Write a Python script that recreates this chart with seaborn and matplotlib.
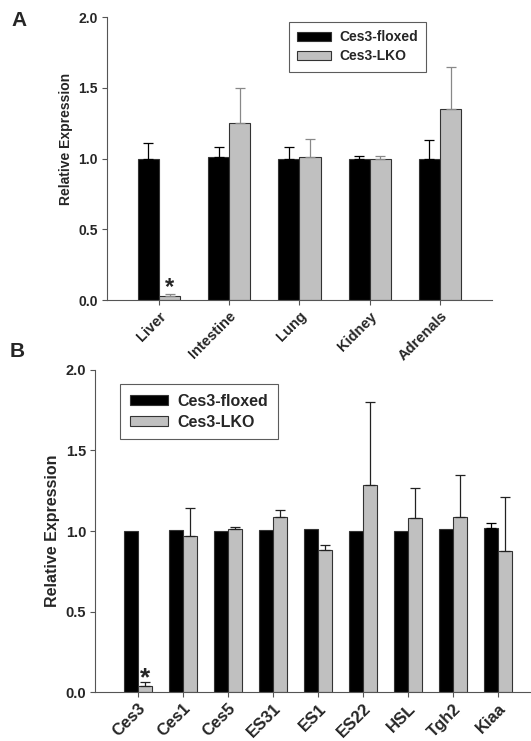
import matplotlib
matplotlib.use("Agg")
import matplotlib.pyplot as plt
from matplotlib.patches import Patch
import numpy as np
import pandas as pd
import seaborn as sns

# panel A: tissues
tissues = ["Liver", "Intestine", "Lung", "Kidney", "Adrenals"]
a_floxed = [1.00, 1.01, 0.995, 1.00, 1.00]
a_floxed_err = [0.11, 0.07, 0.085, 0.02, 0.13]
a_lko = [0.03, 1.25, 1.01, 1.00, 1.35]
a_lko_err = [0.01, 0.25, 0.13, 0.02, 0.30]

# panel B: genes in liver
genes = ["Ces3", "Ces1", "Ces5", "ES31", "ES1", "ES22", "HSL", "Tgh2", "Kiaa"]
b_floxed = [1.00, 1.005, 1.00, 1.005, 1.01, 1.00, 1.00, 1.01, 1.02]
b_floxed_err = [0.0, 0.0, 0.0, 0.0, 0.0, 0.0, 0.0, 0.0, 0.03]
b_lko = [0.04, 0.97, 1.015, 1.085, 0.885, 1.285, 1.08, 1.085, 0.875]
b_lko_err = [0.02, 0.17, 0.01, 0.045, 0.03, 0.515, 0.19, 0.265, 0.335]

groups = ["Ces3-floxed", "Ces3-LKO"]
colors = ["#000000", "#c0c0c0"]

sns.set_theme(style="ticks")
plt.rcParams["font.family"] = ["Liberation Sans", "DejaVu Sans"]
plt.rcParams["font.weight"] = "bold"


def panel(ax, cats, fl, fl_err, lk, lk_err, width, fs_y, fs_x, fs_lab, fs_leg,
          err_colors, anchor):
    df = pd.DataFrame({
        "cat": cats * 2,
        "val": fl + lk,
        "grp": [groups[0]] * len(cats) + [groups[1]] * len(cats),
    })
    sns.barplot(data=df, x="cat", y="val", hue="grp", palette=colors,
                width=width, errorbar=None, edgecolor="#333333", linewidth=0.8,
                legend=False, ax=ax)
    for cont, errs, ec in zip(ax.containers, [fl_err, lk_err], err_colors):
        for bar, e in zip(cont, errs):
            if e <= 0:
                continue
            x = bar.get_x() + bar.get_width() / 2
            h = bar.get_height()
            ax.errorbar(x, h, yerr=[[0], [e]], fmt="none", ecolor=ec,
                        elinewidth=0.9, capsize=3.5, capthick=0.9)
    ax.set_ylim(0, 2.0)
    ax.set_yticks([0.0, 0.5, 1.0, 1.5, 2.0])
    ax.set_yticklabels(["0.0", "0.5", "1.0", "1.5", "2.0"], fontsize=fs_y, fontweight="bold")
    ax.set_xticks(range(len(cats)))
    ax.set_xticklabels(cats, rotation=45, ha="right", rotation_mode="anchor",
                       fontsize=fs_x, fontweight="bold")
    ax.set_xlabel("")
    ax.set_ylabel("Relative Expression", fontsize=fs_lab, fontweight="bold")
    sns.despine(ax=ax)
    for s in ["left", "bottom"]:
        ax.spines[s].set_color("#555555")
        ax.spines[s].set_linewidth(0.8)
    ax.tick_params(axis="both", length=3.5, width=0.8, color="#555555", pad=3)
    handles = [Patch(facecolor=c, edgecolor="#333333", linewidth=0.8) for c in colors]
    leg = ax.legend(handles, groups, loc="upper left", bbox_to_anchor=anchor,
                    fontsize=fs_leg, frameon=True, fancybox=False,
                    handlelength=2.4, handleheight=0.6, borderpad=0.6,
                    labelspacing=0.35, handletextpad=0.6, borderaxespad=0)
    leg.get_frame().set_edgecolor("#333333")
    leg.get_frame().set_linewidth(0.8)
    return ax


fig = plt.figure(figsize=(5.31, 7.41), dpi=100)
axA = fig.add_axes([0.2015, 0.5951, 0.725, 0.3819])
axB = fig.add_axes([0.179, 0.0661, 0.821, 0.4346])

panel(axA, tissues, a_floxed, a_floxed_err, a_lko, a_lko_err, 0.6,
      10, 10.5, 10, 10, ["#000000", "#888888"], (0.473, 0.982))
axA.set_xlim(-0.74, 4.74)
axA.yaxis.label.set_position((0, 0.57))

panel(axB, genes, b_floxed, b_floxed_err, b_lko, b_lko_err, 0.62,
      10.5, 12, 11.5, 11.5, ["#000000", "#222222"], (0.058, 0.955))
axB.set_xlim(-0.96, 8.73)

# significance markers
axA.text(0.15, 0.085, "*", ha="center", va="center", fontsize=17, fontweight="bold")
axB.text(0.16, 0.085, "*", ha="center", va="center", fontsize=19, fontweight="bold")

fig.text(0.022, 0.972, "A", fontsize=15, fontweight="bold", va="center")
fig.text(0.018, 0.525, "B", fontsize=15, fontweight="bold", va="center")

fig.savefig("out.png", dpi=100)
